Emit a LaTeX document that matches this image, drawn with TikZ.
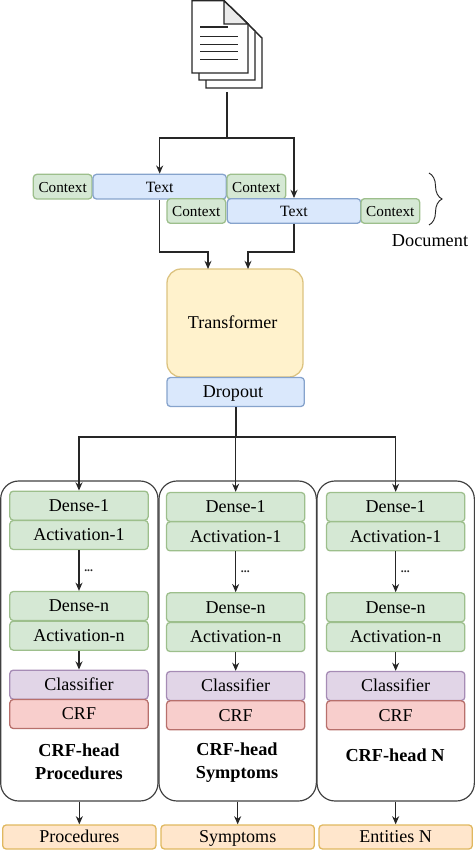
\documentclass[tikz,border=0pt]{standalone}
\usepackage{fontspec}
\setmainfont{Liberation Serif}
\usepackage{tikz}
\usetikzlibrary{arrows.meta,positioning,calc,decorations.pathreplacing}
\usepackage{xcolor}
\definecolor{greenfill}{HTML}{D5E8D4}
\definecolor{greenline}{HTML}{9DBF8C}
\definecolor{bluefill}{HTML}{DAE8FC}
\definecolor{blueline}{HTML}{86A3CC}
\definecolor{yellowfill}{HTML}{FFF2CC}
\definecolor{yellowline}{HTML}{DCC380}
\definecolor{purplefill}{HTML}{E1D5E7}
\definecolor{purpleline}{HTML}{A68CB5}
\definecolor{redfill}{HTML}{F8CECC}
\definecolor{redline}{HTML}{B8706C}
\definecolor{orangefill}{HTML}{FFE6CC}
\definecolor{orangeline}{HTML}{E0B860}

\begin{document}
\begin{tikzpicture}[
    box/.style={draw, rectangle, minimum width=4.15cm, minimum height=0.87cm,
        inner sep=0pt, align=center, rounded corners=3pt, line width=1.1pt,
        text height=13pt, text depth=3.2pt,
        font=\fontsize{15.4}{18}\selectfont},
    green/.style={box, fill=greenfill, draw=greenline},
    context/.style={green, minimum width=1.76cm, minimum height=0.74cm, font=\fontsize{13}{15}\selectfont},
    textbox/.style={box, fill=bluefill, draw=blueline, minimum width=4cm, minimum height=0.74cm, font=\fontsize{13.4}{15}\selectfont},
    classbox/.style={box, fill=purplefill, draw=purpleline},
    crfbox/.style={box, fill=redfill, draw=redline},
    outbox/.style={box, fill=orangefill, draw=orangeline, minimum width=4.6cm, minimum height=0.72cm},
    head/.style={draw=black!75, rectangle, minimum width=4.72cm, minimum height=9.6cm,
        rounded corners=0.54cm, line width=1pt},
    headlabel/.style={align=center, inner sep=0pt, font=\fontsize{15.6}{19.6}\selectfont\bfseries},
    page/.style={draw=black!85, fill=white, line width=1.2pt},
    arrow/.style={-{Stealth[length=7pt,width=6pt]}, line width=1pt, black!85},
    dots/.style={midway, right, inner sep=4pt, font=\fontsize{10}{10}\selectfont\bfseries},
]
\useasboundingbox (0,0) rectangle (14.25,-25.5);

% document icon
\draw[page] (6.18,-0.44) -- (7.14,-0.44) -- (7.86,-1.14) -- (7.86,-2.64) -- (6.18,-2.64) -- cycle;
\draw[page] (5.97,-0.23) -- (6.93,-0.23) -- (7.65,-0.93) -- (7.65,-2.40) -- (5.97,-2.40) -- cycle;
\draw[page] (5.76,-0.02) -- (6.72,-0.02) -- (7.44,-0.72) -- (7.44,-2.19) -- (5.76,-2.19) -- cycle;
\draw[page, fill=black!8] (6.72,-0.02) -- (6.72,-0.72) -- (7.44,-0.72) -- cycle;
\draw[page] (6.00,-0.81) -- (6.84,-0.81);
\draw[page] (6.00,-1.10) -- (7.14,-1.10);
\draw[page] (6.00,-1.33) -- (7.14,-1.33);
\draw[page] (6.00,-1.55) -- (7.14,-1.55);
\draw[page] (6.00,-1.78) -- (7.14,-1.78);

\coordinate (doc) at (6.81,-2.76);
\coordinate (split) at (6.81,-4.14);

% input windows
\node[context] (ctx1) at (1.88,-5.6) {Context};
\node[textbox] (text1) at (4.79,-5.6) {Text};
\node[context] (ctx2) at (7.69,-5.6) {Context};
\node[context] (ctx3) at (5.89,-6.33) {Context};
\node[textbox] (text2) at (8.82,-6.33) {Text};
\node[context] (ctx4) at (11.71,-6.33) {Context};

\coordinate (bracetop) at (12.87,-5.19);
\coordinate (bracebot) at (12.87,-6.75);
\draw[black!85, line width=0.8pt, decorate, decoration={brace, amplitude=0.39cm}] (bracetop) -- (bracebot);
\node[font=\fontsize{15.6}{18}\selectfont] (doclabel) at (12.9,-7.23) {Document};

% encoder
\node[box, fill=yellowfill, draw=yellowline, minimum width=4.08cm, minimum height=3.24cm,
    rounded corners=0.42cm] (tf) at (7.05,-9.69) {Transformer\hspace{0.14cm}};
\node[box, fill=bluefill, draw=blueline, minimum width=4.12cm] (drop) at (7.07,-11.76) {Dropout\hspace{0.16cm}};

\coordinate (tfleft) at (6.24,-8.07);
\coordinate (tfright) at (7.44,-8.07);
\coordinate (bendleft) at (6.24,-7.56);
\coordinate (bendright) at (7.44,-7.56);
\coordinate (fork) at (7.07,-13.11);

% heads
\node[head] (h1) at (2.38,-19.23) {};
\node[head] (h2) at (7.13,-19.23) {};
\node[head] (h3) at (11.87,-19.23) {};

\node[green] (d1a) at (2.37,-15.17) {Dense-1};
\node[green] (a1a) at (2.37,-16.05) {Activation-1};
\node[green] (dna) at (2.37,-18.18) {Dense-n};
\node[green] (ana) at (2.37,-19.07) {Activation-n};
\node[classbox] (cla) at (2.37,-20.54) {Classifier};
\node[crfbox] (crfa) at (2.37,-21.42) {CRF};
\node[headlabel] (la) at (2.37,-22.85) {CRF-head\\Procedures};

\node[green] (d1b) at (7.07,-15.21) {Dense-1};
\node[green] (a1b) at (7.07,-16.09) {Activation-1};
\node[green] (dnb) at (7.07,-18.22) {Dense-n};
\node[green] (anb) at (7.07,-19.11) {Activation-n};
\node[classbox] (clb) at (7.07,-20.58) {Classifier};
\node[crfbox] (crfb) at (7.07,-21.46) {CRF};
\node[headlabel] (lb) at (7.11,-22.88) {CRF-head\\Symptoms};

\node[green] (d1c) at (11.87,-15.21) {Dense-1};
\node[green] (a1c) at (11.87,-16.09) {Activation-1};
\node[green] (dnc) at (11.87,-18.22) {Dense-n};
\node[green] (anc) at (11.87,-19.11) {Activation-n};
\node[classbox] (clc) at (11.87,-20.58) {Classifier};
\node[crfbox] (crfc) at (11.87,-21.46) {CRF};
\node[headlabel] (lc) at (11.85,-22.65) {CRF-head N};

\node[outbox] (oa) at (2.38,-25.11) {Procedures};
\node[outbox] (ob) at (7.13,-25.11) {Symptoms};
\node[outbox] (oc) at (11.87,-25.11) {Entities N};

% connectors
\draw[black!85, line width=1.5pt] (doc) -- (split);
\draw[arrow] (split) -| (text1.north);
\draw[arrow] (split) -| (text2.north);
\draw[arrow] (text1.south) |- (bendleft) -- (tfleft);
\draw[arrow] (text2.south) |- (bendright) -- (tfright);

\draw[black!85, line width=1.5pt] (drop.south) -- (fork);
\draw[arrow] (fork) -| (d1a.north);
\draw[arrow, line width=1.3pt] (fork) -- (d1b.north);
\draw[arrow] (fork) -| (d1c.north);

\draw[arrow] (a1a) -- (dna) node[dots] {...};
\draw[arrow] (ana) -- (cla);
\draw[arrow] (h1) -- (oa);
\draw[arrow] (a1b) -- (dnb) node[dots] {...};
\draw[arrow] (anb) -- (clb);
\draw[arrow] (h2) -- (ob);
\draw[arrow] (a1c) -- (dnc) node[dots] {...};
\draw[arrow] (anc) -- (clc);
\draw[arrow] (h3) -- (oc);

\end{tikzpicture}
\end{document}
